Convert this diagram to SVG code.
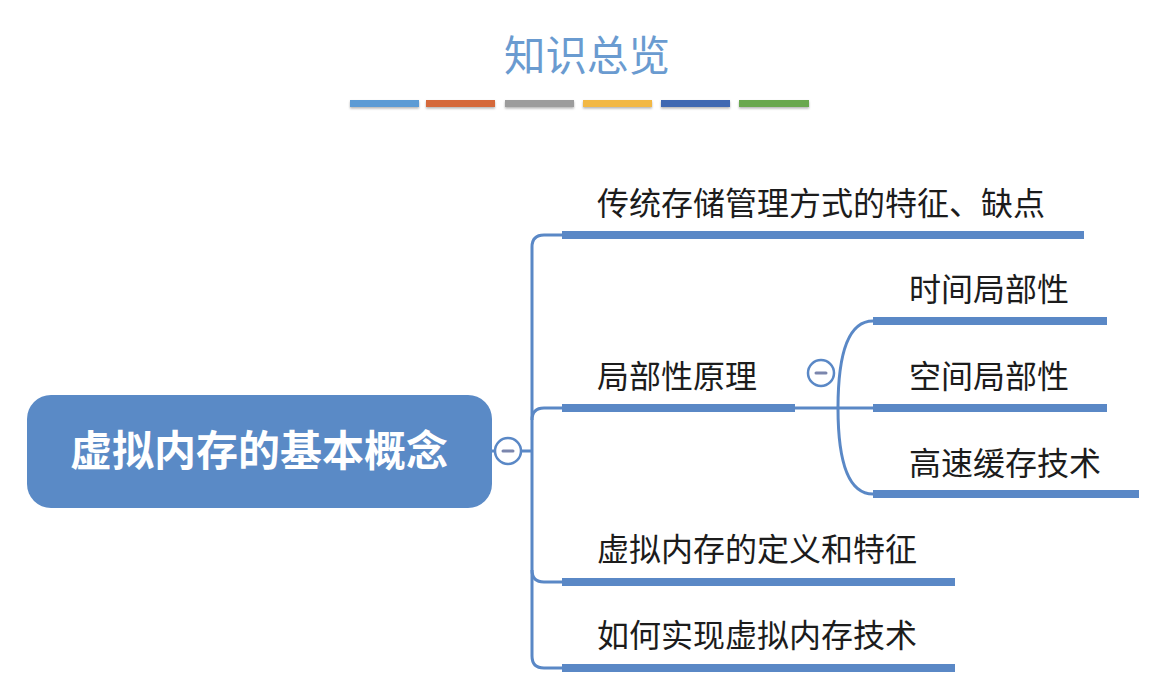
<svg xmlns="http://www.w3.org/2000/svg" width="1162" height="689" viewBox="0 0 1162 689">
<defs>
<style>
.lbl{font-family:"Noto Sans CJK SC","Noto Sans",sans-serif;font-size:32px;fill:#1c1c1c}
.bar{stroke:#5a88c6;stroke-width:8;fill:none}
.con{stroke:#5a88c6;stroke-width:3;fill:none}
.tog{fill:#ffffff;stroke:#5a88c6;stroke-width:2.5}
.minus{stroke:#7b86ad;stroke-width:3;stroke-linecap:round}
.cbar{filter:url(#sh)}
</style>
<filter id="sh" x="-10%" y="-50%" width="120%" height="250%">
<feDropShadow dx="0" dy="1.5" stdDeviation="1" flood-color="#000" flood-opacity="0.3"/>
</filter>
</defs>
<rect width="1162" height="689" fill="#ffffff"/>
<g id="title">
<text x="587" y="71" text-anchor="middle" font-family="'Noto Sans CJK SC',sans-serif" font-size="41.5" fill="#6a9bd0">知识总览</text>
<rect class="cbar" x="350" y="100" width="69" height="7" fill="#5b9bd5"/>
<rect class="cbar" x="426" y="100" width="69" height="7" fill="#d5693b"/>
<rect class="cbar" x="505" y="100" width="69" height="7" fill="#9c9c9c"/>
<rect class="cbar" x="583" y="100" width="69" height="7" fill="#f2b844"/>
<rect class="cbar" x="661" y="100" width="69" height="7" fill="#4169b2"/>
<rect class="cbar" x="739" y="100" width="70" height="7" fill="#6aa84f"/>
</g>
<g id="connectors">
<path class="con" d="M490,451 L532,451"/>
<path class="con" d="M562,235 L544,235 Q532,235 532,247 L532,656 Q532,668 544,668 L562,668"/>
<path class="con" d="M532,420 Q532,408 544,408 L562,408"/>
<path class="con" d="M532,570 Q532,582 544,582 L562,582"/>
<path class="con" d="M795,408 L873,408"/>
<path class="con" d="M838,408 C838,345 852,321 873,321"/>
<path class="con" d="M838,408 C838,471 852,494 873,494"/>
</g>
<g id="root">
<rect x="27" y="395" width="465" height="113" rx="24" fill="#5a8ac6"/>
<text x="259" y="466" text-anchor="middle" font-family="'Noto Sans CJK SC',sans-serif" font-size="42" font-weight="bold" fill="#ffffff">虚拟内存的基本概念</text>
<circle class="tog" cx="508" cy="451" r="13"/>
<line class="minus" x1="503" y1="451" x2="513" y2="451"/>
</g>
<g id="n1">
<path class="bar" d="M562,235 L1084,235"/>
<text class="lbl" x="597" y="215">传统存储管理方式的特征、缺点</text>
</g>
<g id="n2">
<path class="bar" d="M562,408 L795,408"/>
<text class="lbl" x="597" y="388">局部性原理</text>
<circle class="tog" cx="821" cy="373" r="13"/>
<line class="minus" x1="816" y1="373" x2="826" y2="373"/>
</g>
<g id="n21">
<path class="bar" d="M873,321 L1107,321"/>
<text class="lbl" x="909" y="301">时间局部性</text>
</g>
<g id="n22">
<path class="bar" d="M873,408 L1107,408"/>
<text class="lbl" x="909" y="388">空间局部性</text>
</g>
<g id="n23">
<path class="bar" d="M873,494 L1139,494"/>
<text class="lbl" x="909" y="475">高速缓存技术</text>
</g>
<g id="n3">
<path class="bar" d="M562,582 L955,582"/>
<text class="lbl" x="597" y="561">虚拟内存的定义和特征</text>
</g>
<g id="n4">
<path class="bar" d="M562,668 L955,668"/>
<text class="lbl" x="597" y="647">如何实现虚拟内存技术</text>
</g>
</svg>
